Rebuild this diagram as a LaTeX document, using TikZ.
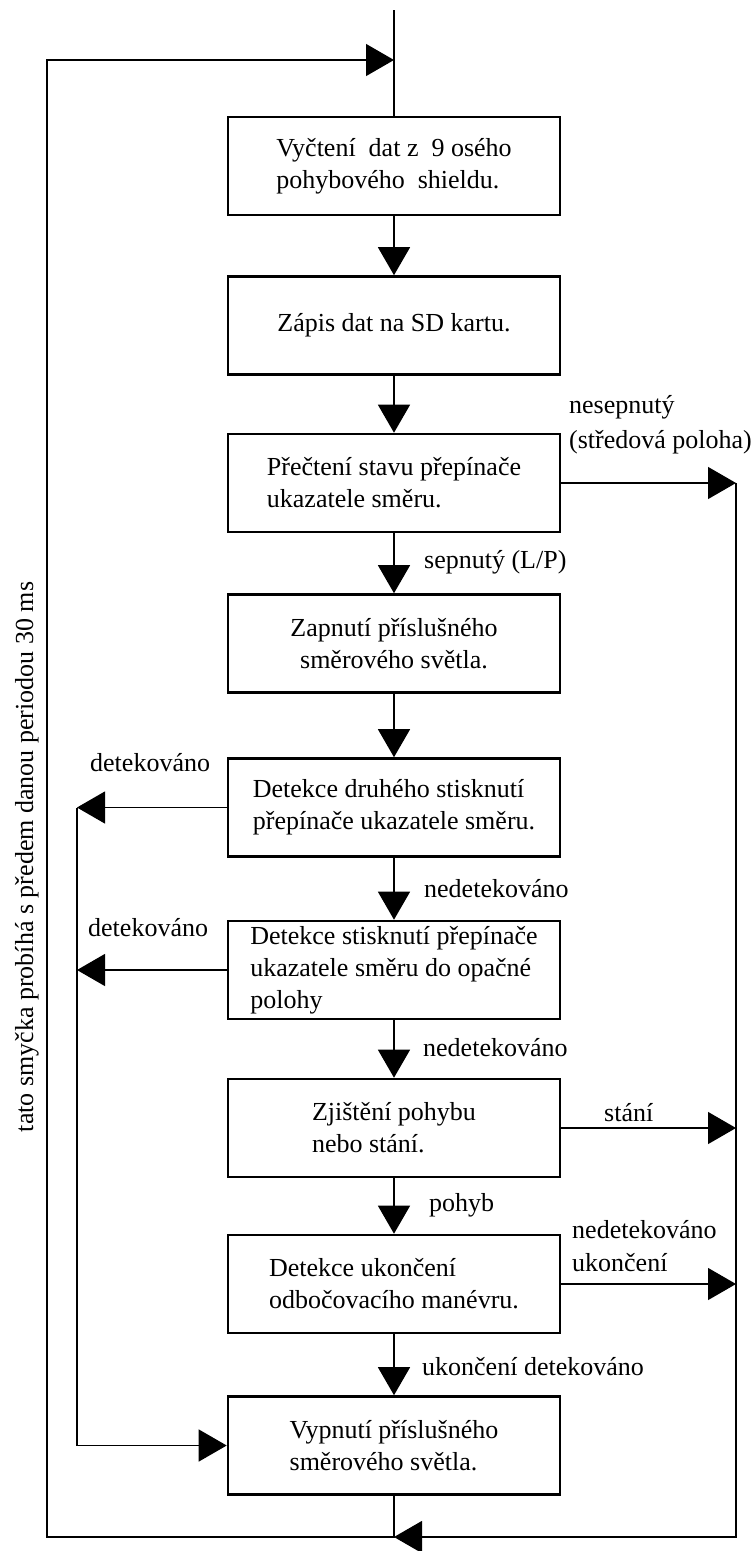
\documentclass[tikz,border=0pt]{standalone}
\usepackage{fontspec}
\setmainfont{Liberation Serif}
\usetikzlibrary{arrows.meta}
\begin{document}
\begin{tikzpicture}[x=1pt,y=-1pt,
  txt/.style={font=\fontsize{26}{32}\selectfont},
  box/.style={txt,draw,line width=2.6pt,minimum width=332pt,minimum height=98pt,
              inner sep=0pt,align=left},
  conn/.style={line width=1.3pt},
  arr/.style={conn,-{Triangle[length=28pt,width=32pt]}},
  lbl/.style={txt,anchor=west,inner sep=0pt,align=left}]
\useasboundingbox (0,0) rectangle (755,1551);

% process steps
\node[box] (b1) at (394,166)   {Vyčtení\ \ dat z\ \ 9 osého\\pohybového\ \ shieldu.};
\node[box] (b2) at (394,325.5) {Zápis dat na SD kartu.};
\node[box] (b3) at (394,483)   {Přečtení stavu přepínače\\ukazatele směru.};
\node[box,align=center] (b4) at (394,643.5) {Zapnutí příslušného\\směrového světla.};
\node[box] (b5) at (394,807.5) {Detekce druhého stisknutí\\přepínače ukazatele směru.};
\node[box] (b6) at (394,970)   {Detekce stisknutí přepínače\\ukazatele směru do opačné\\polohy};
\node[box] (b7) at (394,1128)  {Zjištění pohybu\\nebo stání.};
\node[box] (b8) at (394,1284)  {Detekce ukončení\\odbočovacího manévru.};
\node[box] (b9) at (394,1445.5){Vypnutí příslušného\\směrového světla.};

% routing points
\coordinate (top) at (394,10);
\coordinate (jt)  at (394,60);
\coordinate (lt)  at (47,60);
\coordinate (lb)  at (47,1537);
\coordinate (bj)  at (394,1537);
\coordinate (rt)  at (736,483);
\coordinate (rb)  at (736,1537);
\coordinate (lx)  at (77,807.5);
\coordinate (lxb) at (77,1445.5);

% main flow
\draw[conn] (top) -- (b1.north);
\draw[arr] (b1) -- (b2);
\draw[arr] (b2) -- (b3);
\draw[arr] (b3) -- (b4);
\draw[arr] (b4) -- (b5);
\draw[arr] (b5) -- (b6);
\draw[arr] (b6) -- (b7);
\draw[arr] (b7) -- (b8);
\draw[arr] (b8) -- (b9);

% loop back to the start
\draw[arr] (b9.south) -- (bj) -- (lb) -- (lt) -- (jt);

% branches to the right
\draw[arr] (b3.east) -- (rt);
\draw[arr] (b7.east) -- (b7.east -| rt);
\draw[arr] (b8.east) -- (b8.east -| rt);
\draw[arr] (rt) -- (rb) -- (bj);

% branches to the left
\draw[arr] (b5.west) -- (lx);
\draw[arr] (b6.west) -- (b6.west -| lx);
\draw[arr] (lx) -- (lxb) -- (b9.west);

% labels
\node[lbl,font=\fontsize{26}{35}\selectfont] (l1) at (569,424.5) {nesepnutý\\(středová poloha)};
\node[lbl] (l2) at (424,562)  {sepnutý (L/P)};
\node[lbl] (l3) at (90,763)   {detekováno};
\node[lbl] (l4) at (424,889)  {nedetekováno};
\node[lbl] (l5) at (88,928)   {detekováno};
\node[lbl] (l6) at (423,1048) {nedetekováno};
\node[lbl] (l7) at (604,1113) {stání};
\node[lbl] (l8) at (429,1205) {pohyb};
\node[lbl,font=\fontsize{26}{33}\selectfont] (l9) at (572,1246.5) {nedetekováno\\ukončení};
\node[lbl] (l10) at (422,1367) {ukončení detekováno};
\node[txt,rotate=90,inner sep=0pt] (loop) at (27,857) {tato smyčka probíhá s předem danou periodou 30 ms};
\end{tikzpicture}
\end{document}
